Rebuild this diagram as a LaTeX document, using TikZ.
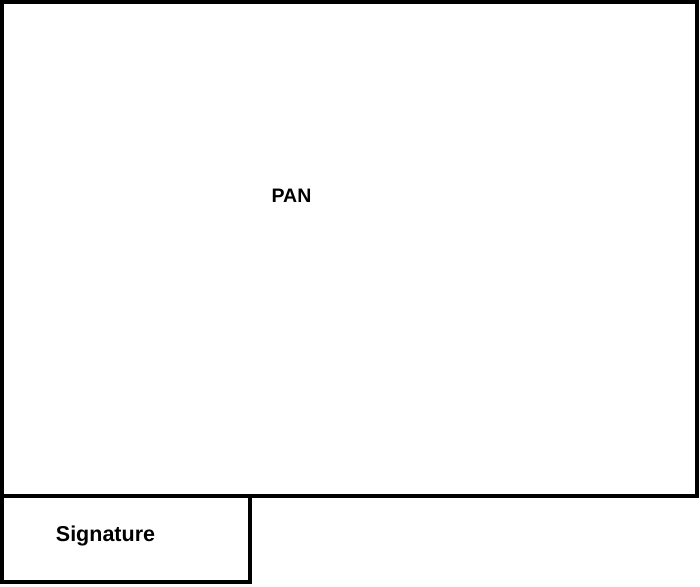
\documentclass[tikz,border=0pt]{standalone}
\usepackage{fontspec}
\setmainfont{Liberation Sans}
\usepackage{tikz}
\usetikzlibrary{positioning}

\begin{document}
\begin{tikzpicture}[x=1pt, y=-1pt,
        frame/.style={draw=black, line width=4pt},
        lbl/.style={font=\bfseries, anchor=base, inner sep=0pt}
        ]

        %% Page area
        \useasboundingbox (0,0) rectangle (700,586);

        %% Boxes
        \draw[frame] (2,2) rectangle (696.5,496);
        \draw[frame] (2,496) rectangle (249.5,581.5);

        %% Labels
        \node[lbl, font=\fontsize{19.5}{23}\selectfont\bfseries] (pan) at (291.5,202) {PAN};
        \node[lbl, font=\fontsize{21.5}{25}\selectfont\bfseries] (sig) at (105.5,541) {Signature};

\end{tikzpicture}
\end{document}
